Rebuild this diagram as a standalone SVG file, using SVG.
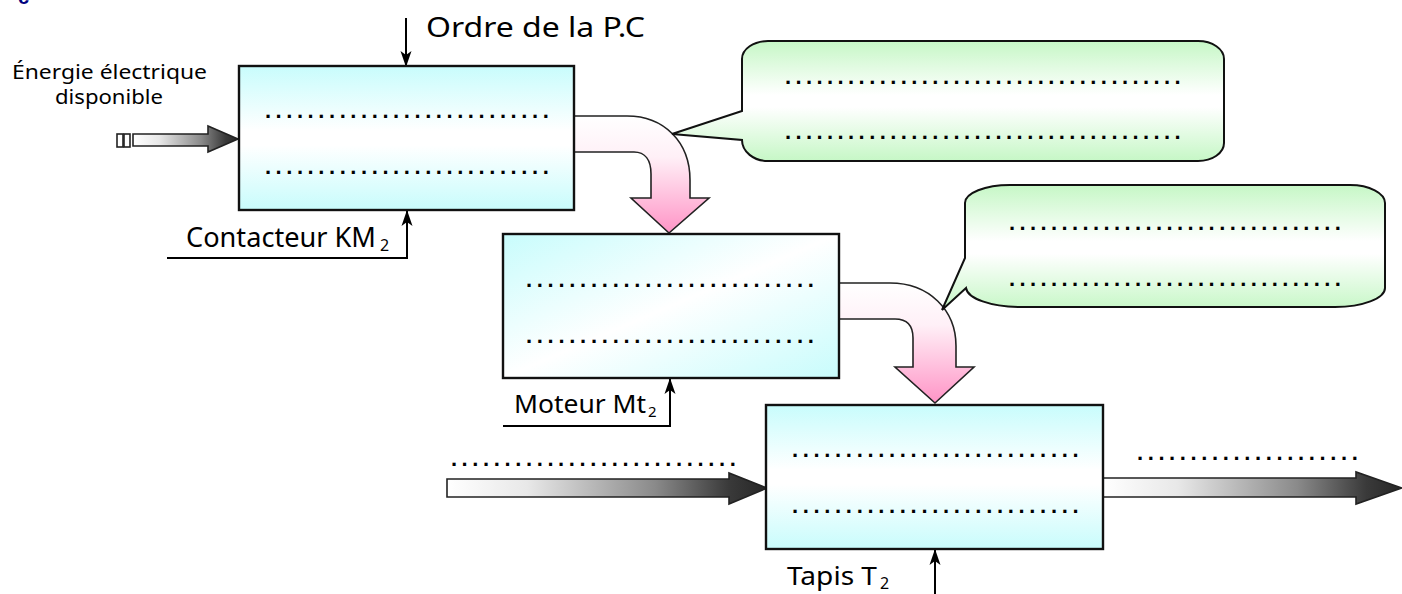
<svg xmlns="http://www.w3.org/2000/svg" width="1402" height="594" viewBox="0 0 1402 594">
  <defs>
    <linearGradient id="gBoxV" x1="0" y1="0" x2="0" y2="1">
      <stop offset="0" stop-color="#c8fcfc"/>
      <stop offset="0.45" stop-color="#ffffff"/>
      <stop offset="0.55" stop-color="#ffffff"/>
      <stop offset="1" stop-color="#c8fcfc"/>
    </linearGradient>
    <linearGradient id="gBoxD" x1="0" y1="0" x2="1" y2="1">
      <stop offset="0" stop-color="#c8fcfc"/>
      <stop offset="0.5" stop-color="#ffffff"/>
      <stop offset="1" stop-color="#c8fcfc"/>
    </linearGradient>
    <linearGradient id="gBubble" x1="0" y1="0" x2="0" y2="1">
      <stop offset="0" stop-color="#c6f7c6"/>
      <stop offset="0.45" stop-color="#ffffff"/>
      <stop offset="0.55" stop-color="#ffffff"/>
      <stop offset="1" stop-color="#c6f7c6"/>
    </linearGradient>
    <linearGradient id="gPink" x1="0" y1="0" x2="0" y2="1">
      <stop offset="0" stop-color="#ffffff"/>
      <stop offset="0.35" stop-color="#fff0f7"/>
      <stop offset="1" stop-color="#ff94c6"/>
    </linearGradient>
    <linearGradient id="gFlow" x1="0" y1="0" x2="1" y2="0">
      <stop offset="0" stop-color="#ffffff"/>
      <stop offset="0.25" stop-color="#e8e8e8"/>
      <stop offset="0.65" stop-color="#8a8a8a"/>
      <stop offset="0.88" stop-color="#3a3a3a"/>
      <stop offset="1" stop-color="#262626"/>
    </linearGradient>
    <marker id="arr" viewBox="0 0 16 12" refX="15" refY="6" markerWidth="16" markerHeight="12" markerUnits="userSpaceOnUse" orient="auto">
      <path d="M0,0.5 L16,6 L0,11.5 L4,6 Z" fill="#000"/>
    </marker>
    <style>
      .box { stroke: #111; stroke-width: 2.4; }
      .bubble { fill: url(#gBubble); stroke: #111; stroke-width: 2; }
      .pink { fill: url(#gPink); stroke: #222; stroke-width: 1.6; }
      .flow { fill: url(#gFlow); stroke: #222; stroke-width: 1.6; }
      .link { fill: none; stroke: #000; stroke-width: 2; }
      .lbl { font-family: "Noto Sans", "DejaVu Sans", "Liberation Sans", sans-serif; fill: #000; }
      .sub { font-family: "Noto Sans", "DejaVu Sans", "Liberation Sans", sans-serif; fill: #000; }
      .dots { font-family: "Liberation Sans", Arial, sans-serif; font-weight: bold; font-size: 22px; fill: #000; }
    </style>
  </defs>

  <!-- heading fragment clipped by the top edge -->
  <text x="18" y="4" font-family="Liberation Sans, sans-serif" font-weight="bold" font-size="20" fill="#00007f">c</text>

  <!-- connectors: flows, control lines, energy arrows -->
  <g id="connectors">
    <!-- electrical energy input -->
    <rect x="117" y="134" width="6" height="13" fill="#fff" stroke="#222" stroke-width="1.6"/>
    <rect x="124" y="134" width="6" height="13" fill="#fff" stroke="#222" stroke-width="1.6"/>
    <path class="flow" d="M133,134 H208 V126 L238,139 L208,152 V146 H133 Z"/>

    <!-- bent flow from KM2 to Mt2 -->
    <path class="pink" d="M574,116 H627 C664,116 690,142 690,180 V198 H709 L669,233 L631,198 H651 V174 C651,160 645,152 634,152 H574 Z"/>
    <!-- bent flow from Mt2 to T2 -->
    <path class="pink" d="M839,283 H890 C929,283 956,310 956,346 V367 H974 L935,403 L895,367 H913 V338 C913,325 906,319 895,319 H839 Z"/>

    <!-- matter flow through the conveyor -->
    <path class="flow" d="M447,479 H729 V473 L767,488 L729,504 V497 H447 Z"/>
    <path class="flow" d="M1103,478 H1356 V472 L1402,488 L1356,504 V497 H1103 Z"/>

    <!-- control and support lines -->
    <path class="link" d="M406,18 V66" marker-end="url(#arr)"/>
    <path class="link" d="M167,258 H407 V211" marker-end="url(#arr)"/>
    <path class="link" d="M503,426 H670 V379" marker-end="url(#arr)"/>
    <path class="link" d="M935,594 V550" marker-end="url(#arr)"/>
  </g>

  <!-- labels -->
  <g id="labels">
    <text class="lbl" x="426" y="37" font-size="28" textLength="219" lengthAdjust="spacingAndGlyphs">Ordre de la P.C</text>
    <text class="lbl" x="12" y="79" font-size="19" textLength="195" lengthAdjust="spacingAndGlyphs">Énergie électrique</text>
    <text class="lbl" x="55" y="104" font-size="19" textLength="108" lengthAdjust="spacingAndGlyphs">disponible</text>
    <text class="lbl" x="186" y="247" font-size="28" textLength="190" lengthAdjust="spacingAndGlyphs">Contacteur KM</text>
    <text class="sub" x="380" y="251" font-size="16">2</text>
    <text class="lbl" x="514" y="413" font-size="26" textLength="132" lengthAdjust="spacingAndGlyphs">Moteur Mt</text>
    <text class="sub" x="648" y="417" font-size="15">2</text>
    <text class="lbl" x="787" y="585" font-size="26" textLength="90" lengthAdjust="spacingAndGlyphs">Tapis T</text>
    <text class="sub" x="880" y="589" font-size="16">2</text>
    <text class="dots" x="450.9" y="466" letter-spacing="4.61">...........................</text>
    <text class="dots" x="1136.9" y="460" letter-spacing="4.63">.....................</text>
  </g>

  <!-- contactor KM2 -->
  <g id="km2">
    <rect class="box" x="239" y="66" width="335" height="144" fill="url(#gBoxV)"/>
    <text class="dots" x="264.9" y="118" letter-spacing="4.57">...........................</text>
    <text class="dots" x="264.9" y="174" letter-spacing="4.57">...........................</text>
  </g>

  <!-- motor Mt2 -->
  <g id="mt2">
    <rect class="box" x="503" y="234" width="336" height="144" fill="url(#gBoxD)"/>
    <text class="dots" x="525.9" y="287" letter-spacing="4.73">...........................</text>
    <text class="dots" x="525.9" y="343" letter-spacing="4.73">...........................</text>
  </g>

  <!-- conveyor T2 -->
  <g id="t2">
    <rect class="box" x="766" y="405" width="337" height="144" fill="url(#gBoxV)"/>
    <text class="dots" x="791.9" y="457" letter-spacing="4.68">...........................</text>
    <text class="dots" x="791.9" y="513" letter-spacing="4.68">...........................</text>
  </g>

  <!-- callout on the KM2 output -->
  <g id="callout1">
    <path class="bubble" d="M768,41 H1198 A26,18 0 0 1 1224,59 V143 A26,18 0 0 1 1198,161 H768 A26,21 0 0 1 742,140 L672,134 L742,111 V59 A26,18 0 0 1 768,41 Z"/>
    <text class="dots" x="784.9" y="84" letter-spacing="4.42">......................................</text>
    <text class="dots" x="784.9" y="139" letter-spacing="4.42">......................................</text>
  </g>

  <!-- callout on the Mt2 output -->
  <g id="callout2">
    <path class="bubble" d="M1010,185 H1350 A35,18 0 0 1 1385,203 V288 A50,19 0 0 1 1335,307 H1020 A55,20 0 0 1 966,288 L942,310 L965,258 V203 A45,18 0 0 1 1010,185 Z"/>
    <text class="dots" x="1008.9" y="230" letter-spacing="4.4">................................</text>
    <text class="dots" x="1008.9" y="286" letter-spacing="4.4">................................</text>
  </g>
</svg>
